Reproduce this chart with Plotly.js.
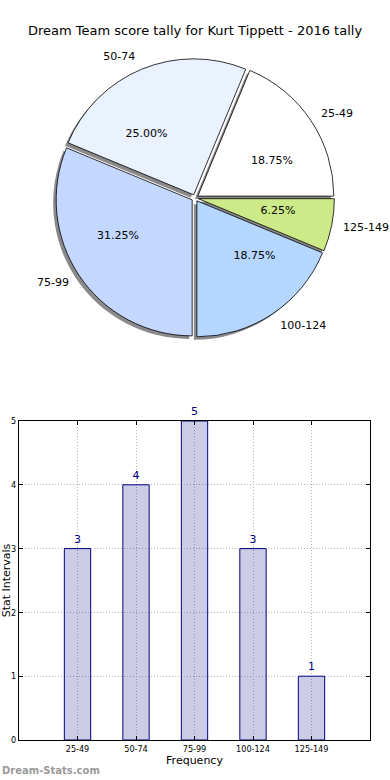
<!DOCTYPE html>
<html>
<head>
<meta charset="utf-8">
<script src="https://cdn.plot.ly/plotly-3.0.1.min.js"></script>
<style>html,body{margin:0;padding:0;background:#fff}#chart{width:390px;height:780px}</style>
</head>
<body>
<div id="chart"></div>
<script>
var categories = ['25-49', '50-74', '75-99', '100-124', '125-149'];
var counts = [3, 4, 5, 3, 1];
var sliceColors = ['#ffffff', '#eaf1ff', '#c4d8ff', '#b4d6ff', '#ccea88'];
var yTicks = [0, 1, 2, 3, 4, 5];

var font = 'DejaVu Sans, Verdana, sans-serif';
var W = 390, H = 780;
var pull = 0.025;
function dom(cx, cy, r) {
  var h = r * (1 + pull);
  return {x: [(cx - h) / W, (cx + h) / W], y: [1 - (cy + h) / H, 1 - (cy - h) / H]};
}
var pcx = 195, pcy = 198, pr = 136;
// first slice starts at 3 o'clock and runs counterclockwise (Plotly puts the first slice's end at "rotation")
var total = counts.reduce(function(a, b){return a + b;}, 0);
var rot = 90 - 360 * counts[0] / total;
var clear = categories.map(function(){return 'rgba(0,0,0,0)';});

function pieBase(d) {
  return {type: 'pie', labels: categories, values: counts, sort: false,
    direction: 'counterclockwise', rotation: rot, pull: pull, domain: d, showlegend: false};
}
var shadow = Object.assign(pieBase(dom(pcx - 3, pcy + 3, pr)), {
  marker: {colors: categories.map(function(){return '#8a8a8a';}), line: {width: 0}},
  textinfo: 'none', hoverinfo: 'skip'
});
var mainPie = Object.assign(pieBase(dom(pcx, pcy, pr)), {
  marker: {colors: sliceColors, line: {color: '#000', width: 0.8}},
  textinfo: 'none'
});
var labelPie = Object.assign(pieBase(dom(pcx, pcy, pr + 8)), {
  marker: {colors: clear, line: {width: 0}},
  textinfo: 'label', textposition: 'outside',
  outsidetextfont: {family: font, size: 11, color: '#000'},
  hoverinfo: 'skip'
});
var percentPie = Object.assign(pieBase(dom(pcx, pcy, 62)), {
  marker: {colors: clear, line: {width: 0}},
  texttemplate: '%{percent:.2%}', textposition: 'outside',
  outsidetextfont: {family: font, size: 11, color: '#000'},
  hoverinfo: 'skip'
});
var bars = {
  type: 'bar', x: categories, y: counts, xaxis: 'x', yaxis: 'y',
  width: 0.45,
  marker: {color: 'rgba(0,0,128,0.2)', line: {color: '#000080', width: 1}},
  text: counts.map(String), textposition: 'outside', cliponaxis: false,
  textfont: {family: font, size: 11, color: '#000080'},
  showlegend: false
};

var layout = {
  width: W, height: H,
  margin: {l: 0, r: 0, t: 0, b: 0},
  paper_bgcolor: '#fff', plot_bgcolor: '#fff',
  font: {family: font, color: '#000'},
  title: {text: 'Dream Team score tally for Kurt Tippett - 2016 tally',
          font: {family: font, size: 13, color: '#000'},
          x: 0.5, xanchor: 'center', y: 1 - 30 / H, yanchor: 'middle'},
  xaxis: {
    domain: [19 / W, 370 / W], anchor: 'y', type: 'category',
    range: [-1, 5], showgrid: true, gridcolor: '#b5b5b5', griddash: '1px,2px', gridwidth: 1,
    showline: true, linecolor: '#000', linewidth: 1, mirror: 'ticks',
    ticks: 'inside', ticklen: 4, tickcolor: '#000',
    tickfont: {family: 'DejaVu Sans Condensed, DejaVu Sans', size: 9, color: '#000'},
    title: {text: 'Frequency', font: {family: font, size: 11, color: '#000'}, standoff: 2},
    zeroline: false, fixedrange: true
  },
  yaxis: {
    domain: [1 - 740 / H, 1 - 421 / H], anchor: 'x',
    range: [0, 5], tickvals: yTicks, ticktext: yTicks.map(String),
    showgrid: true, gridcolor: '#b5b5b5', griddash: '1px,2px', gridwidth: 1,
    showline: true, linecolor: '#000', linewidth: 1, mirror: 'ticks',
    ticks: 'inside', ticklen: 4, tickcolor: '#000',
    tickfont: {family: 'DejaVu Sans Condensed, DejaVu Sans', size: 9, color: '#000'},
    title: {text: 'Stat Intervals', font: {family: font, size: 11, color: '#000'}, standoff: 0},
    zeroline: false, fixedrange: true
  },
  annotations: [{
    text: '<b>Dream-Stats.com</b>', xref: 'paper', yref: 'paper',
    x: 0, y: 1 - 770 / H, xanchor: 'left', yanchor: 'middle', showarrow: false,
    font: {family: 'DejaVu Sans, sans-serif', size: 10, color: '#9a9a9a'}
  }]
};

Plotly.newPlot('chart', [shadow, mainPie, labelPie, percentPie, bars], layout, {displayModeBar: false, staticPlot: true});
</script>
</body>
</html>
